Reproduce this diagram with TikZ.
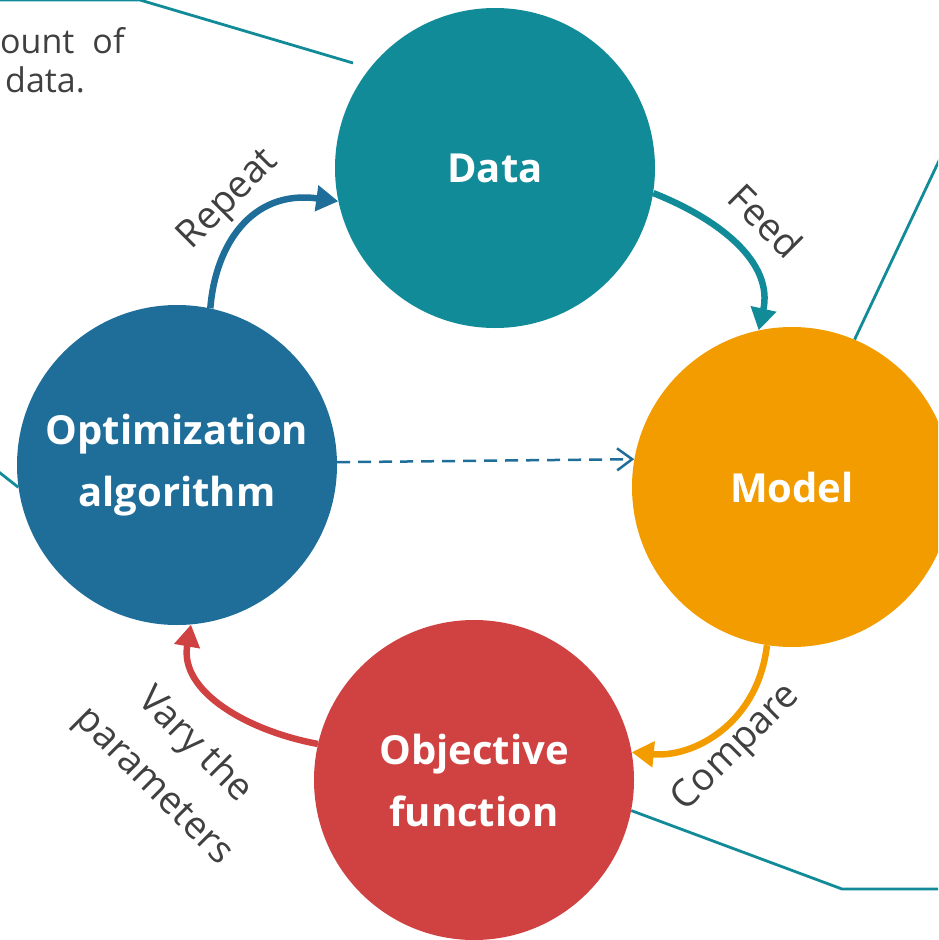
\documentclass[tikz,border=0pt]{standalone}
\usepackage{fontspec}
\setmainfont{Open Sans}
\usetikzlibrary{arrows.meta}

\definecolor{dataC}{HTML}{128B99}
\definecolor{modelC}{HTML}{F29C00}
\definecolor{objC}{HTML}{D04242}
\definecolor{optC}{HTML}{1F6D99}
\definecolor{txtC}{HTML}{404040}
\definecolor{leadC}{HTML}{128B99}

\begin{document}
\begin{tikzpicture}[x=1pt,y=-1pt,
  stage/.style={circle, fill=#1, minimum size=320pt, inner sep=0pt,
    text=white, font=\fontsize{40}{62}\selectfont\bfseries, align=center},
  flow/.style={draw=#1, line width=6.5pt, -{Triangle[length=22pt,width=25pt]}},
  note/.style={text=txtC, font=\fontsize{34}{39}\selectfont, inner sep=0pt},
  lbl/.style={text=txtC, font=\fontsize{38}{58}\selectfont, inner sep=0pt, align=center},
  lead/.style={draw=leadC, line width=2.8pt},
]
\useasboundingbox (0,0) rectangle (938,940);
\clip (0,0) rectangle (938,940);

% the four stages of the loop
\node[stage=dataC]  (data)  at (495,168) {Data};
\node[stage=modelC] (model) at (792,487) {Model};
\node[stage=objC]   (obj)   at (474,780) {Objective\\function};
\node[stage=optC]   (opt)   at (177,465) {Optimization\\algorithm};

% leader lines to the side notes
\coordinate (tlA) at (-5,0);
\coordinate (tlB) at (140,0);
\coordinate (tlC) at (353,63);
\draw[lead] (tlA) -- (tlB) -- (tlC);
\coordinate (rtA) at (945,148);
\draw[lead] (model.67) -- (rtA);
\coordinate (brA) at (842,889);
\coordinate (brB) at (945,889);
\draw[lead] (obj.-11) -- (brA) -- (brB);
\coordinate (lfA) at (-5,469);
\draw[lead] (opt.188) -- (lfA);

% side note text
\node[note, anchor=base west] (noteA) at (0,53) {ount\hspace{18pt}of};
\node[note, anchor=base west] (noteB) at (5,92) {data.};

% loop arrows
\draw[flow=optC]   (opt.78)    .. controls +(5,-63)  and +(-87,-12) .. (data.192);
\draw[flow=dataC]  (data.-9)   .. controls +(68,27)  and +(15,-67)  .. (model.102);
\draw[flow=modelC] (model.261) .. controls +(-9,78)  and +(62,6)    .. (obj.10);
\draw[flow=objC]   (obj.167)   .. controls +(-70,-13) and +(-12,67) .. (opt.275);

% direct update of the model
\draw[draw=optC, line width=2.5pt, dash pattern=on 13pt off 8pt,
  -{Straight Barb[length=15pt,width=22pt]}] (opt.1.4) -- (model.170.6);

% arrow labels
\node[lbl, rotate=45]  (lRepeat)  at (229,200) {Repeat};
\node[lbl, rotate=-45] (lFeed)    at (766,221) {Feed};
\node[lbl, rotate=45]  (lCompare) at (737,748) {Compare};
\node[lbl, rotate=-45] (lVary)    at (174,766) {Vary the\\parameters};
\end{tikzpicture}
\end{document}
